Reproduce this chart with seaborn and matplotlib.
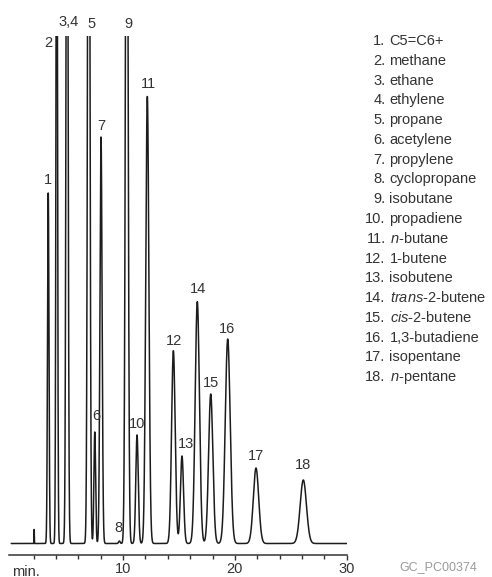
import numpy as np
import pandas as pd
import matplotlib
matplotlib.use("Agg")
import matplotlib.pyplot as plt
import seaborn as sns
from matplotlib.ticker import FixedLocator

# ---------------- data ----------------
peak_ids = ["inj", "1", "2", "3,4", "5", "6", "7", "8", "9", "10", "11",
            "12", "13", "14", "15", "16", "17", "18"]
retention_min = [2.05, 3.31, 4.07, 4.99, 6.93, 7.47, 8.03, 9.67, 10.33, 11.25,
                 12.17, 14.50, 15.27, 16.64, 17.84, 19.36, 21.89, 26.12]
peak_height = [14, 350.5, 800, 900, 1000, 111.5, 406.5, 2.5, 900, 108.5,
               447, 192.8, 87.5, 241.8, 149.5, 204.5, 75.5, 63.5]
peak_sigma = [0.012, 0.065, 0.065, 0.085, 0.095, 0.075, 0.095, 0.07, 0.11, 0.11,
              0.14, 0.16, 0.14, 0.19, 0.19, 0.22, 0.24, 0.28]

label_text = ["1", "2", "3,4", "5", "6", "7", "8", "9", "10", "11",
              "12", "13", "14", "15", "16", "17", "18"]
label_x = [3.31, 3.31, 5.17, 7.22, 7.58, 8.09, 9.58, 10.47, 11.28, 12.26,
           14.56, 15.60, 16.73, 17.87, 19.33, 21.87, 26.07]
label_y = [359.5, 496.8, 517, 516, 123.5, 413.5, 11.8, 516, 115.5, 455.5,
           198.5, 95.5, 250.8, 156.5, 210.8, 83.5, 74.5]

compound_num = [str(i) for i in range(1, 19)]
compound_names = ["C5=C6+", "methane", "ethane", "ethylene", "propane",
                  "acetylene", "propylene", "cyclopropane", "isobutane",
                  "propadiene", r"$\mathit{n}$-butane", "1-butene", "isobutene",
                  r"$\mathit{trans}$-2-butene", r"$\mathit{cis}$-2-butene",
                  "1,3-butadiene", "isopentane", r"$\mathit{n}$-pentane"]

x_ticks_major = [10, 20, 30]
x_ticks_minor = [2, 4, 6, 8, 12, 14, 16, 18, 22, 24, 26, 28]
axis_unit = "min."
footnote = "GC_PC00374"

# ---------------- signal ----------------
t = np.linspace(0, 30, 6001)
sig = np.zeros_like(t)
for rt, h, s in zip(retention_min, peak_height, peak_sigma):
    sig += h * np.exp(-0.5 * ((t - rt) / s) ** 2)
df = pd.DataFrame({"time": t, "signal": sig})

# ---------------- style ----------------
sns.set_theme(style="white")
plt.rcParams["font.family"] = ["Liberation Sans", "DejaVu Sans"]
plt.rcParams["mathtext.fontset"] = "custom"
plt.rcParams["mathtext.rm"] = "Liberation Sans"
plt.rcParams["mathtext.it"] = "Liberation Sans:italic"

W, H = 492, 577
fig = plt.figure(figsize=(W / 100, H / 100), dpi=100)
fig.patch.set_facecolor("white")
ax = fig.add_axes([9 / W, (H - 555) / H, (346.7 - 9) / W, (555 - 36) / H])
ax.set_facecolor("white")

line_col = "#1c1c1c"
txt_col = "#333333"
fs = 10.5

sns.lineplot(data=df, x="time", y="signal", ax=ax, color=line_col,
             linewidth=1.1, estimator=None, sort=False)

ax.set_xlim(-0.2, 30)
ax.set_ylim(-11.5, 507.5)
for sp in ["top", "right", "left"]:
    ax.spines[sp].set_visible(False)
ax.spines["bottom"].set_color(txt_col)
ax.spines["bottom"].set_linewidth(1.1)
ax.set_yticks([])
ax.xaxis.set_major_locator(FixedLocator(x_ticks_major))
ax.xaxis.set_minor_locator(FixedLocator(x_ticks_minor))
ax.tick_params(axis="x", which="major", direction="out", length=3.6, width=1,
               color=txt_col, labelsize=fs, labelcolor=txt_col, pad=1.2, bottom=True)
ax.tick_params(axis="x", which="minor", direction="out", length=3.0, width=1,
               color=txt_col, bottom=True)
ax.set_xticklabels([str(v) for v in x_ticks_major])
ax.set_xlabel("")
ax.set_ylabel("")

# axis unit label at the axis start, on the tick-label baseline
fig.text(12 / W, 1 - 575.5 / H, axis_unit, ha="left", va="baseline",
         fontsize=fs, color=txt_col)

# peak labels
for lt, lx, ly in zip(label_text, label_x, label_y):
    ax.text(lx, ly, lt, ha="center", va="baseline", fontsize=fs,
            color=txt_col, clip_on=False)

# compound list
for i, (n, name) in enumerate(zip(compound_num, compound_names)):
    yb = 1 - (45 + i * 19.78) / H
    fig.text(385.5 / W, yb, n + ".", ha="right", va="baseline",
             fontsize=fs, color=txt_col)
    fig.text(389.5 / W, yb, name, ha="left", va="baseline",
             fontsize=fs, color=txt_col)

fig.text(438.5 / W, 1 - 570.5 / H, footnote, ha="center", va="baseline",
         fontsize=9, color="#9a9a9a")

fig.savefig("out.png", dpi=100, facecolor="white")
